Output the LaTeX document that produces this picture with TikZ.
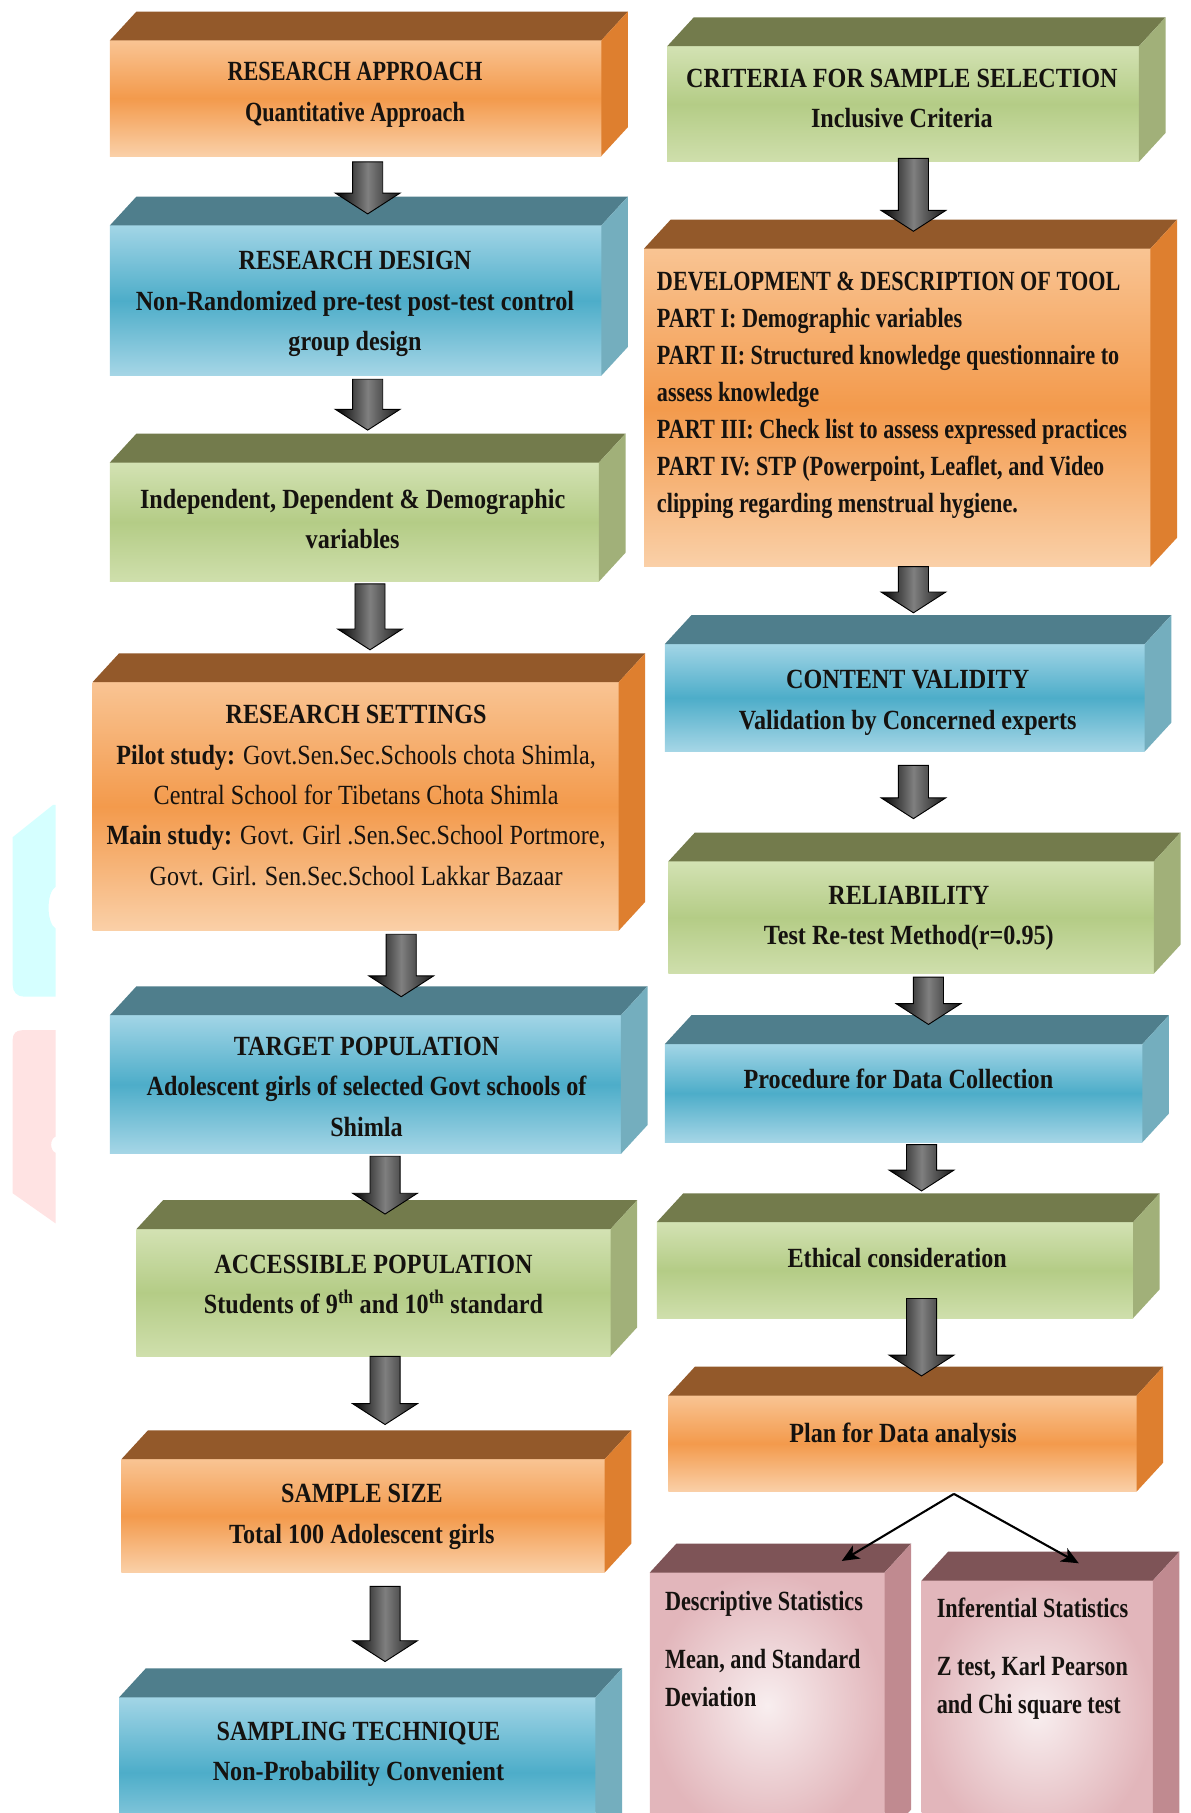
\documentclass[tikz,border=0pt]{standalone}
\usepackage{fontspec}
\setmainfont{Liberation Serif}[FakeStretch=0.8]
\newfontfamily\widefont{Liberation Serif}[FakeStretch=0.87]
\usetikzlibrary{calc,arrows.meta}

\definecolor{orTop}{HTML}{F9C493}
\definecolor{orMid}{HTML}{F39A4C}
\definecolor{orBot}{HTML}{FAD0A8}
\definecolor{orLid}{HTML}{93592A}
\definecolor{orSide}{HTML}{DE7F2F}
\definecolor{blTop}{HTML}{A2D5E6}
\definecolor{blMid}{HTML}{4DADC9}
\definecolor{blBot}{HTML}{A6D6E6}
\definecolor{blLid}{HTML}{4F7E8C}
\definecolor{blSide}{HTML}{74AEBE}
\definecolor{grTop}{HTML}{D3E2B3}
\definecolor{grMid}{HTML}{B4CC86}
\definecolor{grBot}{HTML}{CFDFAC}
\definecolor{grLid}{HTML}{737B4C}
\definecolor{grSide}{HTML}{A1B079}
\definecolor{pkIn}{HTML}{F8EEEF}
\definecolor{pkOut}{HTML}{E2B6BB}
\definecolor{pkLid}{HTML}{7E5457}
\definecolor{pkSide}{HTML}{C08A90}
\definecolor{ink}{HTML}{15120F}
\definecolor{wmCyan}{HTML}{D5FFFF}
\definecolor{wmPink}{HTML}{FFE3E3}

\tikzset{
  face/.style={draw=none, inner sep=0pt, outer sep=0pt, anchor=north west},
  orface/.style={face, top color=orTop, bottom color=orBot, middle color=orMid},
  blface/.style={face, top color=blTop, bottom color=blBot, middle color=blMid},
  grface/.style={face, top color=grTop, bottom color=grBot, middle color=grMid},
  pkface/.style={face, shading=radial, inner color=pkIn, outer color=pkOut},
  txt/.style={text=ink, align=center, inner sep=0pt,
    font=\fontsize{24}{35}\selectfont\bfseries},
  wtxt/.style={txt, font=\widefont\fontsize{24}{35}\selectfont\bfseries},
  ltxt/.style={txt, align=left, anchor=north west},
  barrow/.style={left color=black, right color=black!90, middle color=black!50,
    draw=black, line width=0.8pt, line join=miter},
  thinarrow/.style={draw=black, line width=1.8pt,
    -{Stealth[length=15pt,width=13pt,inset=4pt]}}
}

% 3D lid and side of a front-face node
\newcommand\boxlid[3]{%
  \fill[#2] (#1.north west) -- ++(23,-25) -- ($(#1.north east)+(23,-25)$)
     -- (#1.north east) -- cycle;
  \fill[#3] (#1.north east) -- ++(23,-25) -- ($(#1.south east)+(23,-25)$)
     -- (#1.south east) -- cycle;
}
% block arrow: x, source, gap below source, target, tip above target front
\newcommand\blockarrow[5]{%
  \shadedraw[barrow] let \p1=(#1,0 |- #2.south), \p2=(#1,0 |- #4.north) in
   (\x1-13pt,\y1-#3pt) -- (\x1+13pt,\y1-#3pt) -- (\x1+13pt,\y2+#5pt+18pt)
   -- (\x1+28pt,\y2+#5pt+18pt) -- (\x1,\y2+#5pt) -- (\x1-28pt,\y2+#5pt+18pt)
   -- (\x1-13pt,\y2+#5pt+18pt) -- cycle;
}

\begin{document}
\begin{tikzpicture}[x=1pt,y=-1pt]
\useasboundingbox (0,0) rectangle (1030,1568);
\clip (0,0) rectangle (1030,1568);
\fill[white] (0,0) rectangle (1030,1568);

% faint watermark remnants at the left edge
\fill[wmCyan] (11,724) -- (46,696) -- (48,696) -- (48,767)
   .. controls (40,772) and (40,798) .. (48,803) -- (48,862) -- (21,862)
   .. controls (15,862) and (11,858) .. (11,852) -- cycle;
\fill[wmPink] (19,891) -- (48,891) -- (48,983)
   .. controls (43,985) and (43,995) .. (48,997) -- (48,1058) -- (11,1032)
   -- (11,899) .. controls (11,894) and (14,891) .. (19,891) -- cycle;

% ---------------- left column ----------------
\node[orface, minimum width=425, minimum height=100] (ra) at (95,35) {};
\boxlid{ra}{orLid}{orSide}
\node[txt] (ra-t) at (307,82) {RESEARCH APPROACH\\Quantitative Approach};

\node[blface, minimum width=425, minimum height=130] (rd) at (95,195) {};
\boxlid{rd}{blLid}{blSide}
\node[wtxt] (rd-t) at (307,263) {RESEARCH DESIGN\\Non-Randomized pre-test post-test control\\group design};

\node[grface, minimum width=423, minimum height=103] (iv) at (95,400) {};
\boxlid{iv}{grLid}{grSide}
\node[wtxt] (iv-t) at (305,449) {Independent, Dependent \& Demographic\\variables};

\node[orface, minimum width=455, minimum height=215] (rs) at (80,590) {};
\boxlid{rs}{orLid}{orSide}
\node[wtxt] (rs-t) at (308,688) {RESEARCH SETTINGS\\
  Pilot study: \mdseries Govt.Sen.Sec.Schools chota Shimla,\\
  \mdseries Central School for Tibetans Chota Shimla\\
  Main study: \mdseries Govt. Girl .Sen.Sec.School Portmore,\\
  \mdseries Govt. Girl. Sen.Sec.School Lakkar Bazaar};

\node[blface, minimum width=442, minimum height=120] (tp) at (95,878) {};
\boxlid{tp}{blLid}{blSide}
\node[wtxt] (tp-t) at (317,940) {TARGET POPULATION\\Adolescent girls of selected Govt schools of\\Shimla};

\node[grface, minimum width=410, minimum height=110] (ap) at (118,1063) {};
\boxlid{ap}{grLid}{grSide}
\node[wtxt] (ap-t) at (323,1111) {ACCESSIBLE POPULATION\\Students of 9\textsuperscript{th} and 10\textsuperscript{th} standard};

\node[orface, minimum width=418, minimum height=98] (ss) at (105,1262) {};
\boxlid{ss}{orLid}{orSide}
\node[wtxt] (ss-t) at (313,1312) {SAMPLE SIZE\\Total 100 Adolescent girls};

\node[blface, minimum width=412, minimum height=130] (st) at (103,1468) {};
\boxlid{st}{blLid}{blSide}
\node[wtxt] (st-t) at (310,1517) {SAMPLING TECHNIQUE\\Non-Probability Convenient};

% ---------------- right column ----------------
\node[grface, minimum width=408, minimum height=100] (cs) at (577,40) {};
\boxlid{cs}{grLid}{grSide}
\node[wtxt] (cs-t) at (780,85) {CRITERIA FOR SAMPLE SELECTION\\Inclusive Criteria};

\node[orface, minimum width=438, minimum height=275] (dt) at (557,215) {};
\boxlid{dt}{orLid}{orSide}
\node[ltxt, font=\fontsize{24}{32}\selectfont\bfseries] (dt-t) at (568,235)
  {DEVELOPMENT \& DESCRIPTION OF TOOL\\
   PART I: Demographic variables\\
   PART II: Structured knowledge questionnaire to\\
   assess knowledge\\
   PART III: Check list to assess expressed practices\\
   PART IV: STP (Powerpoint, Leaflet, and Video\\
   clipping regarding menstrual hygiene.};

\node[blface, minimum width=415, minimum height=93] (cv) at (575,557) {};
\boxlid{cv}{blLid}{blSide}
\node[wtxt] (cv-t) at (785,608) {CONTENT VALIDITY\\Validation by Concerned experts};

\node[grface, minimum width=420, minimum height=97] (rel) at (578,745) {};
\boxlid{rel}{grLid}{grSide}
\node[wtxt] (rel-t) at (786,794) {RELIABILITY\\Test Re-test Method(r=0.95)};

\node[blface, minimum width=413, minimum height=85] (pdc) at (575,903) {};
\boxlid{pdc}{blLid}{blSide}
\node[wtxt] (pdc-t) at (777,933) {Procedure for Data Collection};

\node[grface, minimum width=412, minimum height=83] (ec) at (568,1057) {};
\boxlid{ec}{grLid}{grSide}
\node[wtxt] (ec-t) at (776,1088) {Ethical consideration};

\node[orface, minimum width=405, minimum height=83] (pda) at (578,1207) {};
\boxlid{pda}{orLid}{orSide}
\node[wtxt] (pda-t) at (781,1242) {Plan for Data analysis};

\node[pkface, minimum width=203, minimum height=230] (ds) at (562,1360) {};
\boxlid{ds}{pkLid}{pkSide}
\node[ltxt, font=\fontsize{24}{33}\selectfont\bfseries] (ds-t) at (575,1376)
  {Descriptive Statistics\\[17pt]Mean, and Standard\\Deviation};

\node[pkface, minimum width=200, minimum height=230] (is) at (797,1367) {};
\boxlid{is}{pkLid}{pkSide}
\node[ltxt, font=\fontsize{24}{33}\selectfont\bfseries] (is-t) at (810,1382)
  {Inferential Statistics\\[17pt]Z test, Karl Pearson\\and Chi square test};

% ---------------- block arrows ----------------
\blockarrow{318}{ra}{5}{rd}{10}
\blockarrow{318}{rd}{3}{iv}{28}
\blockarrow{320}{iv}{2}{rs}{28}
\blockarrow{347}{rs}{3}{tp}{16}
\blockarrow{333}{tp}{2}{ap}{13}
\blockarrow{333}{ap}{0}{ss}{30}
\blockarrow{333}{ss}{12}{st}{31}
\blockarrow{790}{cs}{-3}{dt}{15}
\blockarrow{790}{dt}{0}{cv}{27}
\blockarrow{790}{cv}{12}{rel}{37}
\blockarrow{803}{rel}{3}{pdc}{17}
\blockarrow{797}{pdc}{2}{ec}{27}
\blockarrow{797}{ec}{-17}{pda}{17}

% ---------------- split arrows ----------------
\coordinate (split) at (825,0 |- pda.south);
\draw[thinarrow] ($(split)+(0,2)$) -- ($(728,0 |- ds.north)+(0,-10)$);
\draw[thinarrow] ($(split)+(0,2)$) -- ($(933,0 |- is.north)+(0,-15)$);
\end{tikzpicture}
\end{document}
